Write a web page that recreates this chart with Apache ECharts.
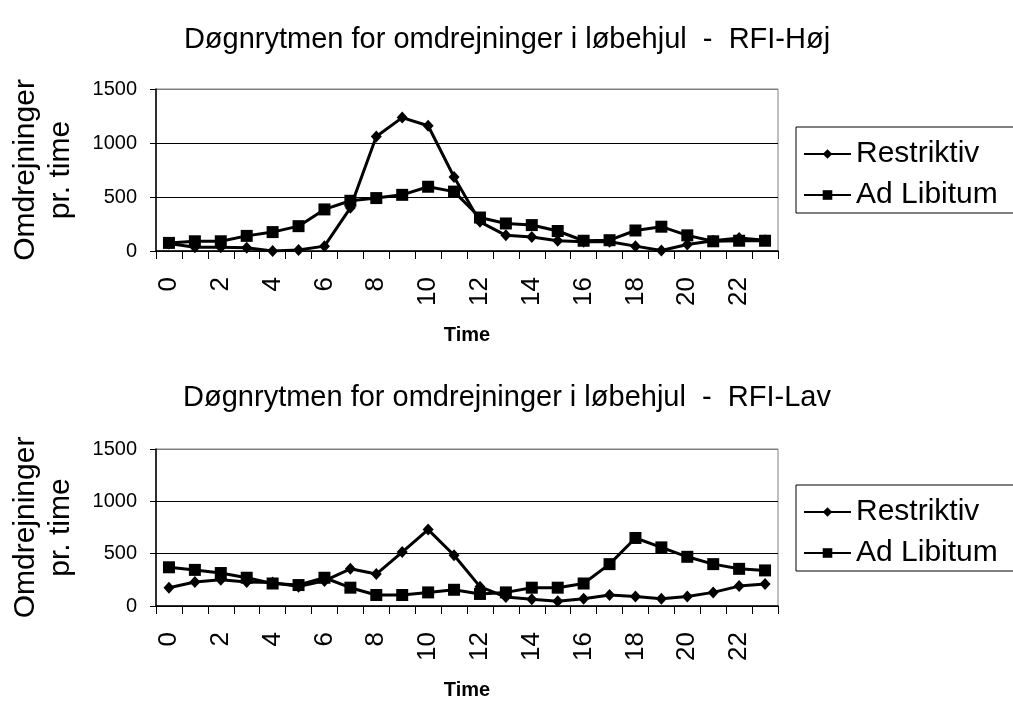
<!DOCTYPE html>
<html><head><meta charset="utf-8">
<script src="https://cdn.jsdelivr.net/npm/echarts@6/dist/echarts.min.js"></script>
<style>html,body{margin:0;padding:0;background:#fff}#c{width:1013px;height:701px}</style>
</head><body><div id="c"></div>
<script>
const hours = ['0','1','2','3','4','5','6','7','8','9','10','11','12','13','14','15','16','17','18','19','20','21','22','23'];
const hojRestriktiv = [70, 35, 35, 30, 0, 10, 45, 400, 1060, 1235, 1160, 685, 270, 145, 130, 95, 85, 85, 45, 5, 60, 95, 120, 100];
const hojAdLibitum = [75, 90, 90, 140, 175, 230, 385, 465, 490, 520, 595, 550, 310, 255, 240, 185, 95, 100, 190, 225, 145, 90, 95, 95];
const lavRestriktiv = [175, 230, 250, 230, 225, 185, 240, 355, 305, 515, 730, 485, 185, 85, 65, 45, 70, 105, 90, 70, 90, 130, 190, 210];
const lavAdLibitum = [370, 345, 315, 270, 215, 200, 270, 175, 105, 105, 130, 155, 115, 130, 175, 175, 215, 400, 650, 560, 470, 400, 355, 340];
const titles = ['Døgnrytmen for omdrejninger i løbehjul  -  RFI-Høj', 'Døgnrytmen for omdrejninger i løbehjul  -  RFI-Lav'];
const seriesNames = ['Restriktiv', 'Ad Libitum'];
const yMin = 0, yMax = 1500, yStep = 500;

const FONT = 'Liberation Sans, Arial, sans-serif';
const chart = echarts.init(document.getElementById('c'), null, {renderer: 'canvas'});

const gridTops = [89, 449];
const grids = gridTops.map(t => ({left: 152, width: 626, top: t, height: 162, show: true, borderColor: '#808080', borderWidth: 1, backgroundColor: 'transparent'}));

const xAxes = gridTops.map((t, i) => ({
  gridIndex: i, type: 'category', data: hours, boundaryGap: true,
  axisLine: {lineStyle: {color: '#000', width: 1.5}},
  axisTick: {show: true, inside: false, length: 8, interval: 0, lineStyle: {color: '#000'}},
  axisLabel: {interval: 1, rotate: 90, margin: 26, fontSize: 26, color: '#000', fontFamily: FONT},
  name: 'Time', nameLocation: 'middle', nameGap: 74,
  nameTextStyle: {fontSize: 20, fontWeight: 'bold', color: '#000', fontFamily: FONT, verticalAlign: 'top'}
}));

const yAxes = gridTops.map((t, i) => ({
  gridIndex: i, type: 'value', min: yMin, max: yMax, interval: yStep,
  axisLine: {show: true, lineStyle: {color: '#000', width: 1.5}},
  axisTick: {show: true, length: 6, lineStyle: {color: '#000'}},
  axisLabel: {margin: 19, fontSize: 20, color: '#000', fontFamily: FONT, formatter: v => String(v)},
  splitLine: {show: true, lineStyle: {color: ['#000', '#000', '#000', '#808080'], width: 1}},
  name: 'Omdrejninger\npr. time', nameLocation: 'middle', nameRotate: 90, nameGap: 78,
  nameTextStyle: {fontSize: 30, lineHeight: 35, color: '#000', fontFamily: FONT, align: 'center'}
}));

function mkSeries(name, data, idx, sym) {
  return {
    name: name, type: 'line', xAxisIndex: idx, yAxisIndex: idx, data: data,
    symbol: sym, symbolSize: sym === 'rect' ? 12 : [11, 12],
    lineStyle: {color: '#000', width: 3},
    itemStyle: {color: '#000'},
    emphasis: {disabled: true}, animation: false
  };
}

const series = [
  mkSeries(seriesNames[0], hojRestriktiv, 0, 'diamond'),
  mkSeries(seriesNames[1], hojAdLibitum, 0, 'rect'),
  mkSeries(seriesNames[0], lavRestriktiv, 1, 'diamond'),
  mkSeries(seriesNames[1], lavAdLibitum, 1, 'rect')
];

const legendTops = [127, 485];
const legends = legendTops.map(t => ({
  data: seriesNames, orient: 'vertical', left: 796, top: t,
  padding: [12, 20, 3, 7], itemGap: 11, itemWidth: 47, itemHeight: 12,
  borderColor: '#000', borderWidth: 1, borderRadius: 0,
  textStyle: {fontSize: 30, color: '#000', fontFamily: FONT, padding: [0, 0, 0, 0]},
  selectedMode: false
}));

const titleOpts = titles.map((txt, i) => ({
  text: txt, left: 502, top: [20, 378][i], textAlign: 'center',
  textStyle: {fontSize: 29, fontWeight: 'normal', color: '#000', fontFamily: FONT}
}));

chart.setOption({
  animation: false,
  backgroundColor: '#fff',
  title: titleOpts,
  grid: grids,
  xAxis: xAxes,
  yAxis: yAxes,
  legend: legends,
  series: series
});
</script></body></html>
